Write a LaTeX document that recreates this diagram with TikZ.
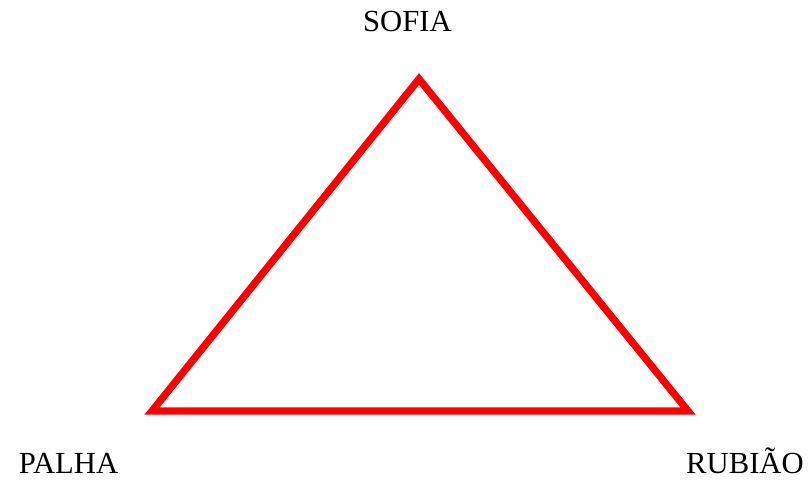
\documentclass[tikz,border=0pt]{standalone}
\usepackage{fontspec}
\setmainfont{Liberation Serif}
\usepackage{xcolor}
\usepackage{tikz}
\usetikzlibrary{positioning}

\begin{document}
\begin{tikzpicture}[
  x=0.75pt, y=-0.75pt,
  person/.style={font=\fontsize{23}{27}\selectfont, anchor=base, inner sep=0pt},
  side/.style={draw=red, line width=5.5pt, miter limit=10},
]
  \useasboundingbox (0,0) rectangle (811,481);

  % corners of the triangle
  \coordinate (sofia-pt) at (419,79);
  \coordinate (palha-pt) at (152,411);
  \coordinate (rubiao-pt) at (688,411);

  % names
  \node[person] (sofia) at (407.5,32) {SOFIA};
  \node[person] (palha) at (68.5,473) {PALHA};
  \node[person] (rubiao) at (745,473) {RUBIÃO};

  % triangle
  \draw[side] (sofia-pt) -- (rubiao-pt) -- (palha-pt) -- cycle;
\end{tikzpicture}
\end{document}
